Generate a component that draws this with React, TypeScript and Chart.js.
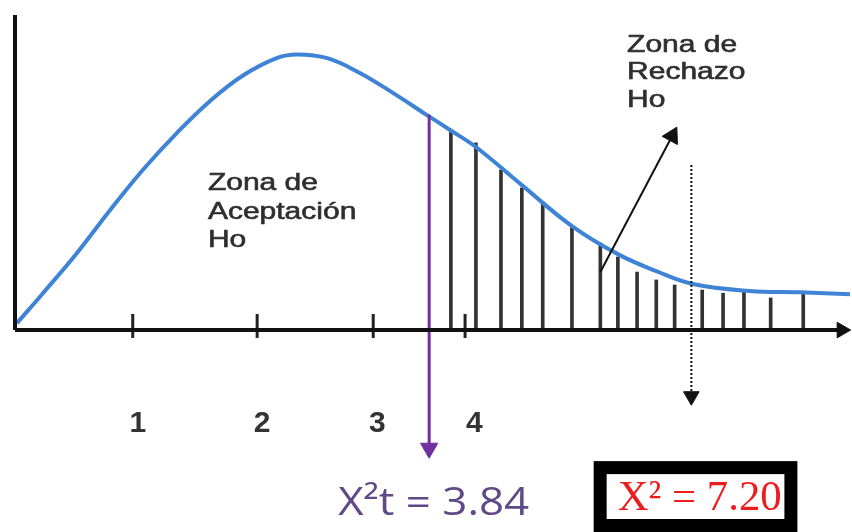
import React, { useEffect, useRef } from "react";
import { Chart, registerables } from "chart.js";

Chart.register(...registerables);

// Curve (chi-square density sketch), in chart units (x: 0-100, y: 0-100 above the axis)
const curveX = [0.24, 3.35, 7.4, 11.4, 15.3, 19.4, 23.4, 27.3, 31.4, 33.8, 37.4, 41.3, 45.3, 49.3, 52.1, 55.2, 60.7, 66.7, 72.2, 76.8, 81.2, 88.0, 94.0, 100];
const curveY = [2.2, 11.7, 24.4, 38.1, 50.8, 62.6, 72.8, 80.8, 86.4, 87.5, 86.3, 81.6, 75.2, 68.3, 63.5, 58.1, 46.0, 33.0, 24.1, 18.7, 14.6, 12.4, 12.0, 11.4];

// Rejection-zone hatch lines
const hatchX = [52.2, 55.2, 58.2, 60.7, 63.2, 66.7, 70.1, 72.2, 74.5, 76.8, 79.0, 82.3, 84.8, 87.3, 90.5, 94.4];
const hatchY = [63.5, 59.4, 50.8, 45.1, 40.6, 32.7, 27.6, 23.2, 18.4, 15.9, 14.3, 12.7, 11.7, 12.1, 10.2, 12.1];

// Axis ticks and labels
const tickX = [14.1, 29.0, 42.9, 53.9];
const tickLabelX = [14.7, 29.6, 43.4, 55.0];
const tickLabels = ["1", "2", "3", "4"];

// Critical value marker (purple arrow)
const criticalX = [49.6, 49.6];
const criticalY = [68.3, -37.5];
const criticalLabel = "X²t = 3.84";

// Observed value marker (dotted arrow)
const observedX = [81.0, 81.0];
const observedY = [52.4, -21.0];
const observedLabel = "X² = 7.20";

// Rejection pointer arrow
const pointerX = [70.1, 78.7];
const pointerY = [18.4, 61.6];

const acceptLines = ["Zona de", "Aceptación", "Ho"];
const rejectLines = ["Zona de", "Rechazo", "Ho"];

const zip = (xs: number[], ys: number[]) => xs.map((x, i) => ({ x, y: ys[i] }));

function drawScaled(ctx: CanvasRenderingContext2D, text: string, left: number, baseline: number, sx: number, stroke = 0) {
  ctx.save();
  ctx.translate(left, baseline);
  ctx.scale(sx, 1);
  ctx.textAlign = "left";
  ctx.textBaseline = "alphabetic";
  ctx.fillText(text, 0, 0);
  if (stroke > 0) {
    ctx.lineWidth = stroke;
    ctx.strokeStyle = ctx.fillStyle as string;
    ctx.strokeText(text, 0, 0);
  }
  ctx.restore();
}

function drawFit(ctx: CanvasRenderingContext2D, text: string, left: number, baseline: number, width: number) {
  const w = ctx.measureText(text).width;
  drawScaled(ctx, text, left, baseline, width / w);
}

const textPlugin = {
  id: "textPlugin",
  afterDatasetsDraw(chart: any) {
    const { ctx } = chart;
    const xs = chart.scales.x;
    const ys = chart.scales.y;
    ctx.save();

    // tick labels
    ctx.font = 'bold 30px "Liberation Sans", Arial, sans-serif';
    ctx.fillStyle = "#333333";
    ctx.textAlign = "center";
    ctx.textBaseline = "alphabetic";
    tickLabels.forEach((t, i) => {
      ctx.fillText(t, xs.getPixelForValue(tickLabelX[i]), ys.getPixelForValue(-32.4));
    });

    // zone labels
    ctx.font = '24px "Liberation Sans", Arial, sans-serif';
    ctx.fillStyle = "#2e2e2e";
    acceptLines.forEach((t, i) => {
      drawScaled(ctx, t, xs.getPixelForValue(23.1), ys.getPixelForValue(44.4) + i * 28.5, 1.25, 0.6);
    });
    rejectLines.forEach((t, i) => {
      drawScaled(ctx, t, xs.getPixelForValue(73.3), ys.getPixelForValue(88.3) + i * 27.5, 1.25, 0.6);
    });

    // critical value label
    ctx.font = '39px "Open Sans", sans-serif';
    ctx.fillStyle = "#5f4a87";
    drawFit(ctx, criticalLabel, xs.getPixelForValue(38.7), ys.getPixelForValue(-58.7), 191);

    // observed value box
    const bl = xs.getPixelForValue(69.3);
    const br = xs.getPixelForValue(93.7);
    const bt = ys.getPixelForValue(-41.6);
    const bb = ys.getPixelForValue(-64.1);
    ctx.fillStyle = "#000000";
    ctx.fillRect(bl, bt, br - bl, bb - bt);
    ctx.fillStyle = "#ffffff";
    ctx.fillRect(bl + 13, bt + 13, br - bl - 26, bb - bt - 26);
    ctx.font = '43px "Liberation Serif", "Times New Roman", serif';
    ctx.fillStyle = "#ee1c1c";
    drawFit(ctx, observedLabel, bl + 24, ys.getPixelForValue(-57.1), 164);

    ctx.restore();
  },
};

export default function App() {
  const ref = useRef<HTMLCanvasElement | null>(null);

  useEffect(() => {
    if (!ref.current) return;
    const arrowLine = (data: any[], color: string, width: number, r: number, rot: number, dash: number[] = []) => ({
      type: "line" as const,
      data,
      borderColor: color,
      borderWidth: width,
      borderDash: dash,
      backgroundColor: color,
      pointRadius: [0, r],
      pointStyle: "triangle",
      pointRotation: [0, rot],
      pointBackgroundColor: color,
      pointBorderColor: color,
      pointBorderWidth: 1,
      tension: 0,
      clip: false as any,
      order: 0,
    });

    const chart = new Chart(ref.current, {
      type: "line",
      data: {
        datasets: [
          {
            type: "line",
            data: zip(curveX, curveY),
            borderColor: "#3f83d6",
            borderWidth: 4,
            pointRadius: 0,
            tension: 0.4,
            clip: false as any,
            order: 1,
          },
          {
            type: "bar",
            data: zip(hatchX, hatchY),
            backgroundColor: "#333333",
            barThickness: 3,
            grouped: false,
            order: 3,
          } as any,
          arrowLine(zip([0, 0], [0, 100]), "#111111", 4, 0, 0),
          arrowLine(zip([0, 99], [0, 0]), "#111111", 4, 9, 90),
          {
            type: "line",
            data: zip(tickX, tickX.map(() => 1.3)),
            showLine: false,
            pointStyle: "line",
            pointRadius: 12,
            pointRotation: 90,
            pointBorderColor: "#222222",
            pointBorderWidth: 3,
            clip: false as any,
            order: 0,
          } as any,
          arrowLine(zip(criticalX, criticalY), "#7030a0", 3, 10, 180),
          arrowLine(zip(observedX, observedY), "#111111", 2, 9, 180, [2, 2]),
          arrowLine(zip(pointerX, pointerY), "#111111", 2, 10, 28),
        ] as any,
      },
      options: {
        animation: false,
        responsive: false,
        devicePixelRatio: 1,
        events: [],
        layout: { autoPadding: false, padding: { left: 15, right: 2, top: 15, bottom: 0 } },
        plugins: { legend: { display: false }, tooltip: { enabled: false } },
        scales: {
          x: { type: "linear", min: 0, max: 100, display: false, offset: false },
          y: { type: "linear", min: -64.1, max: 100, display: false },
        },
      } as any,
      plugins: [textPlugin],
    });
    return () => chart.destroy();
  }, []);

  return (
    <div style={{ position: "absolute", left: 0, top: 0, width: 852, height: 532, background: "#ffffff" }}>
      <canvas ref={ref} width={852} height={532} style={{ width: 852, height: 532 }} />
    </div>
  );
}
